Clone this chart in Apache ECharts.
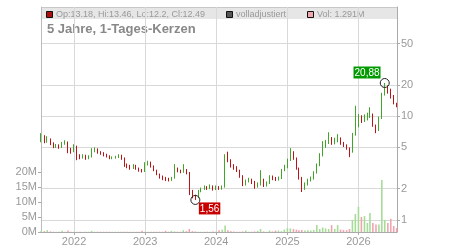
<!DOCTYPE html>
<html>
<head>
<meta charset="utf-8">
<script src="https://cdn.jsdelivr.net/npm/echarts@6/dist/echarts.min.js"></script>
<style>html,body{margin:0;padding:0;background:#fff}#chart{width:450px;height:250px}</style>
</head>
<body>
<div id="chart"></div>
<script>
// half-monthly candles (1st and 16th of each month)
const dates = [
  '2021-07-16','2021-08-01','2021-08-16','2021-09-01','2021-09-16','2021-10-01','2021-10-16','2021-11-01','2021-11-16','2021-12-01','2021-12-16',
  '2022-01-01','2022-01-16','2022-02-01','2022-02-16','2022-03-01','2022-03-16','2022-04-01','2022-04-16','2022-05-01','2022-05-16','2022-06-01','2022-06-16',
  '2022-07-01','2022-07-16','2022-08-01','2022-08-16','2022-09-01','2022-09-16','2022-10-01','2022-10-16','2022-11-01','2022-11-16','2022-12-01','2022-12-16',
  '2023-01-01','2023-01-16','2023-02-01','2023-02-16','2023-03-01','2023-03-16','2023-04-01','2023-04-16','2023-05-01','2023-05-16','2023-06-01','2023-06-16',
  '2023-07-01','2023-07-16','2023-08-01','2023-08-16','2023-09-01','2023-09-16','2023-10-01','2023-10-16','2023-11-01','2023-11-16','2023-12-01','2023-12-16',
  '2024-01-01','2024-01-16','2024-02-01','2024-02-16','2024-03-01','2024-03-16','2024-04-01','2024-04-16','2024-05-01','2024-05-16','2024-06-01','2024-06-16',
  '2024-07-01','2024-07-16','2024-08-01','2024-08-16','2024-09-01','2024-09-16','2024-10-01','2024-10-16','2024-11-01','2024-11-16','2024-12-01','2024-12-16',
  '2025-01-01','2025-01-16','2025-02-01','2025-02-16','2025-03-01','2025-03-16','2025-04-01','2025-04-16','2025-05-01','2025-05-16','2025-06-01','2025-06-16',
  '2025-07-01','2025-07-16','2025-08-01','2025-08-16','2025-09-01','2025-09-16','2025-10-01','2025-10-16','2025-11-01','2025-11-16','2025-12-01','2025-12-16',
  '2026-01-01','2026-01-16','2026-02-01','2026-02-16','2026-03-01','2026-03-16','2026-04-01','2026-04-16','2026-05-01','2026-05-16','2026-06-01','2026-06-16',
  '2026-07-01','2026-07-16'
];
const opens = [
  5.87,6.41,5.87,6.00,5.49,5.14,5.25,5.03,5.49,5.61,4.70,
  4.60,5.14,4.12,4.03,4.12,3.94,4.03,4.70,4.81,4.50,4.40,4.22,
  4.12,3.94,3.98,4.03,4.12,3.94,3.38,3.30,3.16,3.30,3.16,3.02,
  2.95,3.45,3.61,3.30,3.02,2.77,2.59,2.53,2.47,2.42,2.53,3.16,
  2.95,2.89,3.02,2.83,1.86,1.70,1.66,1.90,1.99,2.08,2.03,2.12,
  1.99,2.08,2.03,2.08,3.94,3.77,3.30,3.16,3.02,2.65,2.22,2.37,
  2.42,2.32,2.12,2.22,2.42,2.17,2.27,2.59,2.53,2.47,2.53,3.02,
  3.23,3.77,4.31,3.94,3.16,2.53,2.12,2.22,2.42,2.53,2.89,3.38,
  4.22,5.14,5.61,6.13,5.49,5.87,6.13,5.49,5.26,4.92,4.50,6.71,
  8.00,9.56,9.15,9.56,10.0,10.4,8.18,7.33,9.56,16.2,18.6,17.8,
  15.6,13.18
];
const closes = [
  6.41,5.87,6.00,5.49,5.14,5.25,5.03,5.49,5.61,4.70,4.60,
  5.14,4.12,4.03,4.12,3.94,4.03,4.70,4.81,4.50,4.40,4.22,4.12,
  3.94,3.98,4.03,4.12,3.94,3.38,3.30,3.16,3.30,3.16,3.02,2.95,
  3.45,3.61,3.30,3.02,2.77,2.59,2.53,2.47,2.42,2.53,3.16,2.95,
  2.89,3.02,2.83,1.86,1.70,1.66,1.90,1.99,2.08,2.03,2.12,1.99,
  2.08,2.03,2.08,3.94,3.77,3.30,3.16,3.02,2.65,2.22,2.37,2.42,
  2.32,2.12,2.22,2.42,2.17,2.27,2.59,2.53,2.47,2.53,3.02,3.23,
  3.77,4.31,3.94,3.16,2.53,2.12,2.22,2.42,2.53,2.89,3.38,4.22,
  5.14,5.61,6.13,5.49,5.87,6.13,5.49,5.26,4.92,4.50,6.71,8.00,
  9.56,9.15,9.56,10.0,10.4,8.18,7.33,9.56,16.2,18.6,17.8,15.6,
  13.4,12.49
];
const lows = [
  5.61,5.49,5.55,5.26,4.92,4.95,4.85,4.95,5.30,4.40,4.35,
  4.50,3.77,3.85,3.90,3.80,3.85,4.00,4.50,4.35,4.25,4.10,4.00,
  3.85,3.85,3.90,3.95,3.80,3.25,3.15,3.05,3.10,3.05,2.92,2.87,
  2.90,3.35,3.20,2.95,2.70,2.50,2.42,2.37,2.35,2.38,2.50,2.88,
  2.82,2.85,2.75,1.74,1.62,1.56,1.62,1.85,1.95,1.95,1.98,1.92,
  1.94,1.95,1.96,2.05,3.60,3.20,3.05,2.90,2.55,2.12,2.15,2.30,
  2.22,2.00,2.05,2.15,2.08,2.10,2.22,2.42,2.38,2.40,2.48,2.95,
  3.15,3.70,3.80,3.05,2.45,1.86,1.95,2.15,2.35,2.45,2.80,3.30,
  4.10,4.95,5.40,5.30,5.35,5.60,5.30,5.05,4.75,4.03,4.45,6.50,
  7.80,8.60,8.80,9.10,9.60,7.90,6.86,7.20,9.40,15.8,16.5,14.8,
  13.0,12.2
];
const highs = [
  6.86,6.56,6.41,6.10,5.60,5.40,5.35,5.65,5.87,5.70,4.95,
  5.37,5.20,4.30,4.30,4.25,4.20,4.92,5.00,4.90,4.60,4.50,4.35,
  4.20,4.10,4.15,4.30,4.25,4.00,3.50,3.40,3.45,3.40,3.20,3.10,
  3.60,3.72,3.65,3.35,3.05,2.80,2.68,2.60,2.55,2.60,3.45,3.20,
  3.05,3.45,3.10,2.90,1.95,1.75,1.95,2.05,2.15,2.12,2.20,2.15,
  2.15,2.12,2.15,4.30,4.55,3.85,3.45,3.30,3.05,2.70,2.45,2.55,
  2.50,2.38,2.30,3.02,2.50,2.35,2.70,2.68,2.60,2.62,3.10,3.40,
  3.90,4.92,4.60,4.00,3.20,2.60,2.30,2.50,2.62,2.95,3.50,4.40,
  5.74,5.90,7.00,6.30,6.20,6.71,6.25,5.65,5.35,5.00,6.90,12.6,
  10.5,10.2,10.4,10.8,12.2,10.6,8.30,9.90,16.8,20.88,19.8,18.4,
  16.0,13.46
];
// volume in millions
const volumes = [
  0.4,0.3,0.6,0.2,0.1,0.1,0.1,0.4,0.1,0.5,0.1,
  0.1,0.1,0.1,0.1,0.1,0.1,0.4,0.1,0.1,0.1,0.1,0.1,
  0.1,0.1,0.1,0.1,0.1,0.1,0.1,0.1,0.1,0.1,0.1,0.4,
  0.1,0.1,0.1,0.1,0.1,0.1,0.1,0.4,0.1,0.4,0.2,0.1,
  0.1,0.6,0.3,1.0,0.3,0.2,0.1,0.1,0.1,0.1,0.1,0.2,
  0.2,0.6,0.8,2.2,0.6,0.3,0.2,0.1,0.1,0.2,0.5,0.1,
  0.1,0.2,0.4,1.0,0.2,0.1,0.5,0.2,0.5,0.5,0.3,0.8,
  1.3,1.2,1.0,0.8,0.6,0.7,0.5,0.6,0.5,0.7,2.3,1.0,
  1.5,1.2,1.0,2.3,1.0,2.3,0.8,0.7,0.6,1.0,4.0,6.0,
  8.4,5.0,5.3,3.0,6.3,3.0,2.5,2.5,17.3,4.0,3.0,4.4,
  2.0,1.291
];
const priceTicks = [1, 2, 5, 10, 20, 50];
const volumeTicks = [0, 5, 10, 15, 20];
const yearTicks = ['2022-01-01', '2023-01-01', '2024-01-01', '2025-01-01', '2026-01-01'];

const UP = '#3fa62a', DOWN = '#bd1216';
const VOL_UP = '#a6dc98', VOL_DOWN = '#f2a4ae';
const FONT = 'Liberation Sans, Arial, sans-serif';

const ts = d => new Date(d).getTime();
const last = dates.length - 1;
const minIdx = lows.indexOf(Math.min(...lows));
const maxIdx = highs.indexOf(Math.max(...highs));
const de = v => String(v).replace('.', ',');

var chart = echarts.init(document.getElementById('chart'));
var option = {
  animation: false,
  textStyle: { fontFamily: FONT },
  grid: { left: 41, right: 53, top: 7, bottom: 18 },
  xAxis: {
    type: 'value',
    min: ts('2021-07-15'),
    max: ts('2026-07-18'),
    axisLine: { lineStyle: { color: '#aaa' } },
    axisTick: { show: true, length: 3, lineStyle: { color: '#aaa' }, customValues: yearTicks.map(ts) },
    axisLabel: {
      customValues: yearTicks.map(ts), color: '#999', fontSize: 11, margin: 4,
      formatter: v => String(new Date(v).getUTCFullYear())
    },
    splitLine: { show: true, lineStyle: { color: '#d9d9d9' } }
  },
  yAxis: [
    {
      type: 'value', position: 'left', min: 0, max: 75e6,
      axisLine: { show: true, lineStyle: { color: '#bbb' } },
      axisTick: { show: true, length: 3, lineStyle: { color: '#aaa' }, customValues: volumeTicks.map(v => v * 1e6) },
      axisLabel: {
        customValues: volumeTicks.map(v => v * 1e6), color: '#999', fontSize: 11, margin: 4,
        formatter: v => (v / 1e6) + 'M'
      },
      splitLine: { show: false }
    },
    {
      type: 'log', logBase: 10, position: 'right', min: 0.766, max: 112.7,
      axisLine: { show: true, lineStyle: { color: '#aaa' } },
      axisTick: { show: true, length: 3, lineStyle: { color: '#aaa' }, customValues: priceTicks },
      axisLabel: { customValues: priceTicks, color: '#999', fontSize: 11, margin: 4 },
      splitLine: { show: true, lineStyle: { color: '#d9d9d9' } }
    }
  ],
  graphic: [
    { type: 'rect', shape: { x: 41, y: 7, width: 356, height: 12 }, style: { fill: '#e6e6e6' }, z: -1, silent: true },
    { type: 'line', shape: { x1: 41, y1: 7.5, x2: 397, y2: 7.5 }, style: { stroke: '#c8c8c8', lineWidth: 1 }, silent: true },
    { type: 'rect', shape: { x: 46.5, y: 11.5, width: 6, height: 6 }, style: { fill: '#b00d0d', stroke: '#111', lineWidth: 1 } },
    { type: 'text', x: 56, y: 14.3, style: {
      text: 'Op:' + opens[last] + ', Hi:' + highs[last] + ', Lo:' + lows[last] + ', Cl:' + closes[last],
      fontSize: 9, fontFamily: FONT, fill: '#999', verticalAlign: 'middle' } },
    { type: 'rect', shape: { x: 226.5, y: 11.5, width: 6, height: 6 }, style: { fill: '#555', stroke: '#111', lineWidth: 1 } },
    { type: 'text', x: 236, y: 14.3, style: { text: 'volladjustiert', fontSize: 9, fontFamily: FONT, fill: '#999', verticalAlign: 'middle' } },
    { type: 'rect', shape: { x: 307.5, y: 11.5, width: 6, height: 6 }, style: { fill: '#f0a8b0', stroke: '#111', lineWidth: 1 } },
    { type: 'text', x: 317, y: 14.3, style: { text: 'Vol: ' + volumes[last] + 'M', fontSize: 9, fontFamily: FONT, fill: '#999', verticalAlign: 'middle' } },
    { type: 'text', x: 47, y: 29, style: { text: '5 Jahre, 1-Tages-Kerzen', fontSize: 13, fontWeight: 'bold', fontFamily: FONT, fill: '#888', verticalAlign: 'middle' } }
  ],
  series: [
    {
      name: 'Vol', type: 'bar', xAxisIndex: 0, yAxisIndex: 0, barWidth: 1.6, z: 1,
      data: dates.map((d, i) => ({
        value: [ts(d), volumes[i] * 1e6],
        itemStyle: { color: closes[i] >= opens[i] ? VOL_UP : VOL_DOWN }
      }))
    },
    {
      name: 'Kurs', type: 'candlestick', xAxisIndex: 0, yAxisIndex: 1, barWidth: 1.2, z: 2,
      encode: { x: 0, y: [1, 2, 3, 4] },
      itemStyle: { color: UP, color0: DOWN, borderColor: UP, borderColor0: DOWN, borderWidth: 1 },
      data: dates.map((d, i) => [ts(d), opens[i], closes[i], lows[i], highs[i]])
    },
    {
      type: 'scatter', xAxisIndex: 0, yAxisIndex: 1, z: 5,
      symbol: 'circle', symbolSize: 9,
      itemStyle: { color: 'rgba(0,0,0,0)', borderColor: '#222', borderWidth: 1, opacity: 1 },
      label: { show: true, color: '#fff', fontSize: 10, padding: [1, 1, 0, 1], lineHeight: 11, opacity: 1 },
      data: [
        { value: [ts(dates[minIdx]), lows[minIdx]],
          label: { formatter: de(lows[minIdx]), backgroundColor: '#c80000', position: [8.5, 7.5], align: 'left', verticalAlign: 'top' } },
        { value: [ts(dates[maxIdx]), highs[maxIdx]],
          label: { formatter: de(highs[maxIdx]), backgroundColor: '#009a00', position: [0.8, 0.5], align: 'right', verticalAlign: 'bottom' } }
      ]
    }
  ]
};
option && chart.setOption(option);
</script>
</body>
</html>
